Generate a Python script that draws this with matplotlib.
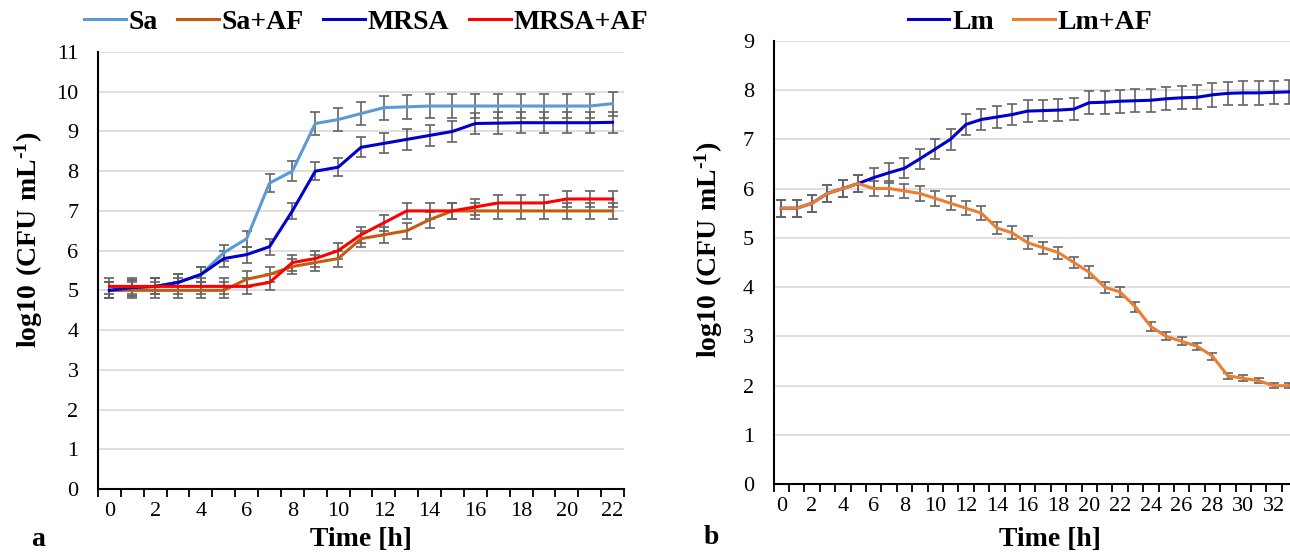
import numpy as np
import matplotlib
matplotlib.use('Agg')
import matplotlib.pyplot as plt

plt.rcParams['font.family'] = ['Liberation Serif', 'DejaVu Serif']
plt.rcParams['mathtext.fontset'] = 'custom'
plt.rcParams['mathtext.rm'] = 'Liberation Serif'
plt.rcParams['mathtext.bf'] = 'Liberation Serif:bold'

# panel a: Staphylococcus
time_a = list(range(0, 23))
sa = [5.0, 5.07, 5.1, 5.2, 5.4, 5.95, 6.3, 7.7, 8.0, 9.2, 9.3, 9.45, 9.6, 9.62,
      9.64, 9.64, 9.64, 9.64, 9.64, 9.64, 9.64, 9.64, 9.7]
sa_err = [0.2, 0.2, 0.2, 0.2, 0.2, 0.2, 0.2, 0.23, 0.25, 0.28, 0.29, 0.29, 0.3, 0.3,
          0.3, 0.3, 0.3, 0.3, 0.3, 0.3, 0.3, 0.3, 0.3]
sa_af = [5.0, 5.0, 5.0, 5.0, 5.0, 5.0, 5.28, 5.4, 5.6, 5.7, 5.8, 6.3, 6.4, 6.5,
         6.78, 7.0, 7.0, 7.0, 7.0, 7.0, 7.0, 7.0, 7.0]
sa_af_err = [0.2] * 23
mrsa = [5.0, 5.07, 5.1, 5.2, 5.4, 5.8, 5.9, 6.1, 7.0, 8.0, 8.1, 8.6, 8.7, 8.8,
        8.9, 9.0, 9.2, 9.21, 9.22, 9.22, 9.22, 9.22, 9.23]
mrsa_err = [0.2, 0.2, 0.2, 0.2, 0.2, 0.2, 0.2, 0.2, 0.21, 0.23, 0.23, 0.25, 0.25, 0.26,
            0.26, 0.27, 0.27, 0.27, 0.27, 0.27, 0.27, 0.27, 0.27]
mrsa_af = [5.1, 5.1, 5.1, 5.1, 5.1, 5.1, 5.1, 5.2, 5.7, 5.8, 6.0, 6.4, 6.7, 7.0,
           7.0, 7.0, 7.1, 7.2, 7.2, 7.2, 7.3, 7.3, 7.3]
mrsa_af_err = [0.2] * 23

# panel b: Listeria
time_b = list(range(0, 34))
lm = [5.6, 5.6, 5.7, 5.9, 6.0, 6.1, 6.22, 6.32, 6.41, 6.6, 6.8, 7.0, 7.3, 7.4,
      7.45, 7.5, 7.57, 7.58, 7.59, 7.61, 7.74, 7.75, 7.77, 7.78, 7.79, 7.82, 7.84,
      7.85, 7.9, 7.93, 7.94, 7.94, 7.95, 7.96]
lm_err = [0.17, 0.17, 0.17, 0.18, 0.18, 0.18, 0.2, 0.2, 0.2, 0.21, 0.21, 0.21, 0.22,
          0.22, 0.22, 0.22, 0.22, 0.22, 0.22, 0.23, 0.23, 0.23, 0.23, 0.23, 0.23,
          0.23, 0.23, 0.24, 0.24, 0.24, 0.24, 0.24, 0.24, 0.24]
lm_af = [5.6, 5.6, 5.7, 5.9, 6.0, 6.1, 6.0, 6.0, 5.95, 5.9, 5.8, 5.7, 5.6, 5.5,
         5.2, 5.1, 4.9, 4.8, 4.7, 4.5, 4.3, 4.0, 3.9, 3.6, 3.2, 3.0, 2.9, 2.8, 2.6,
         2.2, 2.15, 2.1, 2.0, 2.0]
lm_af_err = [0.17, 0.17, 0.17, 0.17, 0.17, 0.17, 0.16, 0.16, 0.15, 0.15, 0.15, 0.14,
             0.14, 0.14, 0.13, 0.13, 0.13, 0.12, 0.12, 0.12, 0.12, 0.11, 0.11, 0.1,
             0.09, 0.08, 0.08, 0.07, 0.07, 0.06, 0.06, 0.05, 0.05, 0.05]

W, H = 1290, 553
fig = plt.figure(figsize=(W / 100, H / 100), dpi=100)

def px_axes(x0, y_top, x1, y_bot):
    return fig.add_axes([x0 / W, 1 - y_bot / H, (x1 - x0) / W, (y_bot - y_top) / H])

def style(ax, n, ymax):
    ax.set_xlim(-0.5, n - 0.5)
    ax.set_ylim(0, ymax)
    ax.set_yticks(range(0, ymax + 1))
    ax.tick_params(axis='y', length=0, labelsize=16, pad=14)
    ax.set_xticks(np.arange(-0.5, n, 1))
    ax.set_xticklabels([])
    ax.tick_params(axis='x', which='major', direction='out', length=6, width=1.3)
    ax.set_xticks(range(0, n, 2), minor=True)
    ax.set_xticklabels([str(i) for i in range(0, n, 2)], minor=True)
    ax.tick_params(axis='x', which='minor', length=0, labelsize=16, pad=9)
    ax.grid(axis='y', color='#d9d9d9', lw=1.2)
    ax.set_axisbelow(True)
    for s in ['top', 'right']:
        ax.spines[s].set_visible(False)
    for s in ['left', 'bottom']:
        ax.spines[s].set_linewidth(1.5)

def plot_series(ax, t, y, e, color, label):
    ax.errorbar(t, y, yerr=e, fmt='none', ecolor='#636363', elinewidth=1.2,
                capsize=3.8, capthick=1.2, zorder=2)
    ax.plot(t, y, color=color, lw=2.2, label=label, zorder=3)

ylab = '$\\mathbf{log10\\ (CFU\\ mL^{\u2010 1})}$'.replace('\u2010 ', '\u2010')
bold = dict(weight='bold', size=20)
leg_kw = dict(loc='center', bbox_transform=fig.transFigure, frameon=False,
              handlelength=1.5, handletextpad=0.1, columnspacing=0.7,
              prop=dict(weight='bold', size=20))

# panel a
ax1 = px_axes(98, 52, 624, 489)
style(ax1, len(time_a), 11)
plot_series(ax1, time_a, sa, sa_err, '#5b9bd5', 'Sa')
plot_series(ax1, time_a, sa_af, sa_af_err, '#c55a11', 'Sa+AF')
plot_series(ax1, time_a, mrsa, mrsa_err, '#0000cc', 'MRSA')
plot_series(ax1, time_a, mrsa_af, mrsa_af_err, '#ff0000', 'MRSA+AF')
ax1.legend(bbox_to_anchor=(366 / W, 1 - 22 / H), ncol=4, **leg_kw)

# panel b
ax2 = px_axes(773.5, 40.6, 773.5 + 34 * 15.4, 484.3)
style(ax2, len(time_b), 9)
plot_series(ax2, time_b, lm, lm_err, '#0000cc', 'Lm')
plot_series(ax2, time_b, lm_af, lm_af_err, '#ed7d31', 'Lm+AF')
ax2.legend(bbox_to_anchor=(1030 / W, 1 - 22 / H), ncol=2, **leg_kw)

fig.text(29 / W, 1 - 240 / H, ylab, rotation=90, ha='center', va='center', **bold)
fig.text(709 / W, 1 - 250 / H, ylab, rotation=90, ha='center', va='center', **bold)
fig.text(361 / W, 1 - 540 / H, 'Time [h]', ha='center', va='center', **bold)
fig.text(1050 / W, 1 - 540 / H, 'Time [h]', ha='center', va='center', **bold)
fig.text(38 / W, 1 - 540 / H, 'a', ha='center', va='center', **bold)
fig.text(711 / W, 1 - 538 / H, 'b', ha='center', va='center', **bold)

fig.savefig('out.png', dpi=100)
